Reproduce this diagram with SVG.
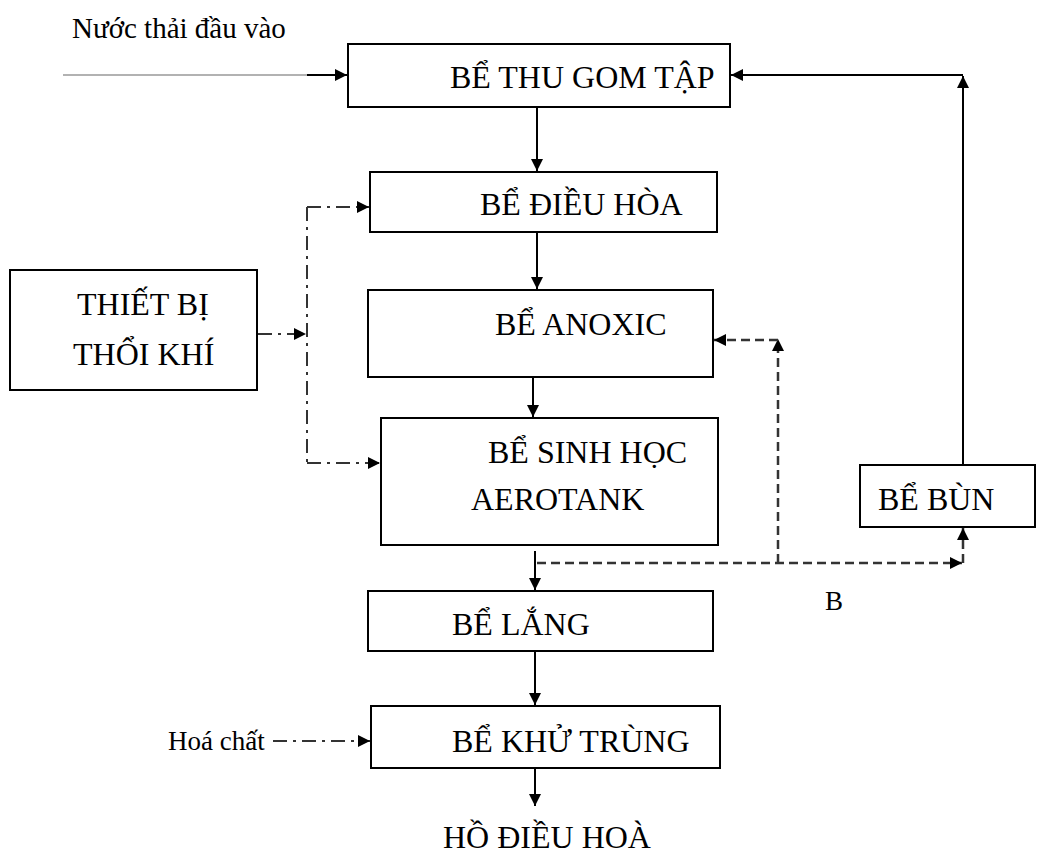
<svg xmlns="http://www.w3.org/2000/svg" width="1047" height="855" viewBox="0 0 1047 855">
<defs>
<marker id="ah" markerUnits="userSpaceOnUse" markerWidth="14" markerHeight="12" refX="12" refY="6" orient="auto"><path d="M0,0 L12,6 L0,12 z" fill="#000"/></marker>
<marker id="ahs" markerUnits="userSpaceOnUse" markerWidth="14" markerHeight="12" refX="12" refY="6" orient="auto"><path d="M0,0 L12,6 L0,12 z" fill="#000"/></marker>
<style>
.box{fill:#fff;stroke:#000;stroke-width:2}
.t{font-family:"Liberation Serif","Times New Roman",serif;font-size:32px;fill:#000}
.s{font-family:"Liberation Serif","Times New Roman",serif;font-size:27px;fill:#000}
.solid{stroke:#000;stroke-width:2;fill:none}
.dash{stroke:#333;stroke-width:2.5;fill:none;stroke-dasharray:9 5}
.dd{stroke:#333;stroke-width:2;fill:none;stroke-dasharray:14 6 3 6}
</style>
</defs>
<rect width="1047" height="855" fill="#fff"/>
<g id="connectors">
<line x1="63" y1="75" x2="307" y2="75" stroke="#999" stroke-width="1.5"/>
<line class="solid" x1="307" y1="75" x2="347" y2="75" marker-end="url(#ah)"/>
<line class="solid" x1="537" y1="107" x2="537" y2="171" marker-end="url(#ah)"/>
<line class="solid" x1="537" y1="232" x2="537" y2="289" marker-end="url(#ah)"/>
<line class="solid" x1="533" y1="377" x2="533" y2="417" marker-end="url(#ah)"/>
<line class="solid" x1="535" y1="551" x2="535" y2="590" marker-end="url(#ah)"/>
<line class="solid" x1="535" y1="651" x2="535" y2="705" marker-end="url(#ah)"/>
<line class="solid" x1="535" y1="768" x2="535" y2="806" marker-end="url(#ah)"/>
<line class="solid" x1="963" y1="465" x2="963" y2="76" marker-end="url(#ah)"/>
<line class="solid" x1="963" y1="75" x2="731" y2="75" marker-end="url(#ah)"/>
<line class="dd" x1="258" y1="334" x2="306" y2="334" marker-end="url(#ahs)"/>
<line class="dd" x1="307" y1="207" x2="307" y2="463"/>
<line class="dd" x1="307" y1="207" x2="369" y2="207" marker-end="url(#ahs)"/>
<line class="dd" x1="307" y1="463" x2="380" y2="463" marker-end="url(#ahs)"/>
<line class="dd" x1="273" y1="741" x2="370" y2="741" marker-end="url(#ahs)"/>
<line class="dash" x1="537" y1="563" x2="962" y2="563" marker-end="url(#ahs)"/>
<line class="dash" x1="963" y1="563" x2="963" y2="528" marker-end="url(#ahs)"/>
<line class="dash" x1="778" y1="563" x2="778" y2="339" marker-end="url(#ahs)"/>
<line class="dash" x1="778" y1="340" x2="714" y2="340" marker-end="url(#ahs)"/>
</g>
<g id="label-input"><text class="s" x="72" y="38" style="font-size:29px">Nước thải đầu vào</text></g>
<g id="be-thu-gom"><rect class="box" x="348" y="44" width="382" height="63"/><text class="t" x="450" y="88">BỂ THU GOM TẬP</text></g>
<g id="be-dieu-hoa"><rect class="box" x="370" y="172" width="347" height="60"/><text class="t" x="480" y="215">BỂ ĐIỀU HÒA</text></g>
<g id="thiet-bi"><rect class="box" x="10" y="270" width="247" height="120"/><text class="t" x="77" y="315">THIẾT BỊ</text><text class="t" x="73" y="365">THỔI KHÍ</text></g>
<g id="be-anoxic"><rect class="box" x="368" y="290" width="345" height="87"/><text class="t" x="495" y="335">BỂ ANOXIC</text></g>
<g id="be-aerotank"><rect class="box" x="381" y="418" width="337" height="127"/><text class="t" x="488" y="463">BỂ SINH HỌC</text><text class="t" x="471" y="510">AEROTANK</text></g>
<g id="be-bun"><rect class="box" x="860" y="465" width="175" height="62"/><text class="t" x="878" y="510">BỂ BÙN</text></g>
<g id="label-b"><text class="s" x="825" y="610">B</text></g>
<g id="be-lang"><rect class="box" x="368" y="591" width="345" height="60"/><text class="t" x="452" y="635">BỂ LẮNG</text></g>
<g id="label-hoa-chat"><text class="s" x="168" y="750">Hoá chất</text></g>
<g id="be-khu-trung"><rect class="box" x="371" y="706" width="349" height="62"/><text class="t" x="452" y="752">BỂ KHỬ TRÙNG</text></g>
<g id="ho-dieu-hoa"><text class="t" x="443" y="848">HỒ ĐIỀU HOÀ</text></g>
</svg>
